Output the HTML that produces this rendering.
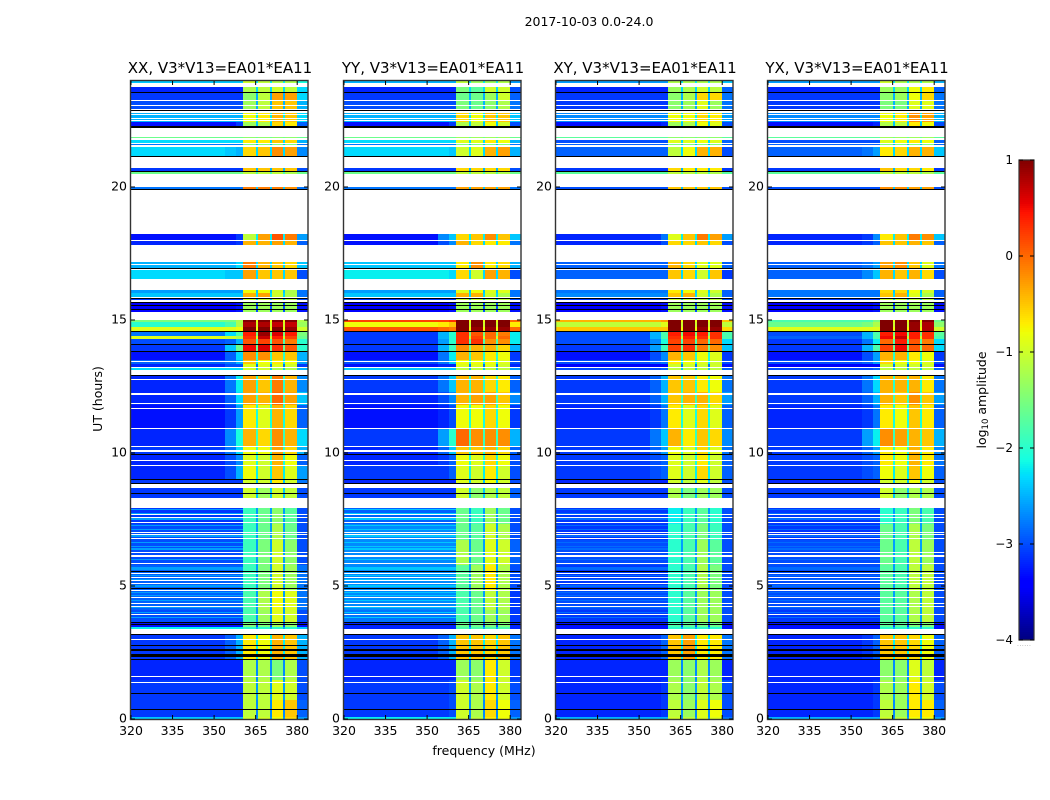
<!DOCTYPE html>
<html lang="en">
<head>
<meta charset="utf-8">
<title>2017-10-03 0.0-24.0</title>
<style>
html,body{margin:0;padding:0;background:#fff;width:1050px;height:800px;overflow:hidden}
svg{display:block}
text{font-family:"DejaVu Sans","Liberation Sans",sans-serif;fill:#000}
</style>
</head>
<body>
<svg id="chart" xmlns="http://www.w3.org/2000/svg" width="1050" height="800" viewBox="0 0 1050 800">
<rect x="0" y="0" width="1050" height="800" fill="#fff"/>
<text x="589" y="26" font-size="12.5" text-anchor="middle">2017-10-03 0.0-24.0</text>
<text x="484" y="755" font-size="12.5" text-anchor="middle">frequency (MHz)</text>
<text x="102" y="399" font-size="12.5" text-anchor="middle" transform="rotate(-90 102 399)">UT (hours)</text>
<text x="986" y="400" font-size="12.5" text-anchor="middle" transform="rotate(-90 986 400)">log<tspan font-size="8.5" dy="2">10</tspan><tspan dy="-2"> amplitude</tspan></text>
<text x="1017" y="646" font-size="6" style="fill:#999;letter-spacing:0.5px">......</text>
<g id="panels"></g>
<g id="colorbar"></g>
</svg>
<script>
const hourEdges = [24.0,23.76,23.57,23.27,22.89,22.44,22.27,21.88,21.78,21.65,21.49,21.15,20.71,20.60,20.49,19.99,19.92,18.23,18.0,17.82,17.18,16.94,16.88,16.53,16.13,16.0,15.85,15.79,15.64,15.31,15.0,14.91,14.75,14.59,14.40,14.29,14.08,13.83,13.50,13.33,13.23,13.11,12.93,12.29,11.80,10.94,10.26,9.96,9.55,9.02,8.83,8.67,8.30,7.95,7.33,6.73,5.79,4.85,4.10,3.65,3.47,3.37,3.16,2.22,1.47,0.71,0.09,0];
const freqEdges = [320,354,358,360.5,365.1,365.7,370.2,370.8,375,375.6,379.8,384];
const gutterLevels = [-2.2,-2.3,-2.5,-2.5,-2.2,-2.4,0,-1.6,-2.3,-2.5,-2.3,0,-2.5,-1.8,0,-2.4,0,-2.2,-2.3,0,-2.3,0,-2.3,0,-2.4,-2.3,0,-2.4,-3,0,-0.8,-1,-0.8,-1.5,-1,-1.8,-1.6,-2,-2.2,-2.8,-2.4,0,-2.0,-1.9,-2.1,-1.9,-2.0,-2.1,-2.2,-2.4,0,-2.4,0,-2.6,-2.6,-2.6,-2.6,-2.6,-2.6,-3,-2.5,0,-2.2,-2.7,-2.6,-2.7,-2.6];
const xxLevels = [
[-2.4,-2.4,-2.4,-1.0,-1.1,-1.2,-1.2,-2.1],[-3.2,-3.2,-3.2,-1.2,-1.1,-1.0,-1.1,-2.3],[-3.1,-3.1,-3.1,-1.4,-1.1,-0.3,-0.3,-2.3],[-3.0,-3.0,-3.0,-1.3,-1.1,-0.5,-0.5,-2.5],[-2.5,-2.5,-2.5,-0.8,-0.7,-0.4,-0.5,-2.3],[-3.3,-3.3,-3.1,-1.3,-1.2,-0.6,-0.7,-2.9],null,
[-1.6,-1.6,-1.6,-1.4,-1.4,-1.4,-1.4,-1.6],[-2.3,-2.3,-2.3,-0.7,-0.7,-0.5,-0.6,-2.5],[-2.8,-2.8,-2.8,-1.5,-1.5,-1.5,-1.5,-2.8],[-2.3,-2.4,-2.5,-0.6,-0.5,-0.2,-0.3,-2.7],null,
[-3.1,-3.1,-3.1,-0.5,-0.5,-0.5,-0.5,-3.0],[-1.6,-1.6,-1.6,-1.1,-1.1,-1.1,-1.2,-1.6],null,[-2.8,-2.8,-2.8,-0.1,-0.1,-0.1,-0.2,-2.8],null,
[-3.3,-3.3,-3.1,-1.1,-0.3,0.1,-0.1,-2.6],[-3.2,-3.2,-3.1,-0.4,-0.4,-0.3,-0.4,-2.9],null,[-2.5,-2.5,-2.3,-0.1,-0.4,-0.5,-0.6,-2.4],null,[-2.3,-2.4,-2.4,-0.3,-0.5,-0.5,-0.5,-3.0],null,
[-2.6,-2.6,-2.6,-0.8,-0.8,-1.0,-1.2,-2.8],[-2.4,-2.4,-2.4,-0.4,-0.3,-1.0,-1.2,-2.8],null,[-3.1,-3.1,-3.1,-1.0,-1.0,-1.0,-1.1,-3.0],[-3.4,-3.4,-3.3,-1.3,-1.3,-1.3,-1.3,-3.3],null,
[-1.5,-1.5,-1.2,1.0,1.0,1.0,1.0,-1.2],[-2.0,-1.8,-1.2,0.8,0.8,0.7,0.7,-1.3],[-0.9,-0.9,-0.8,1.0,1.0,1.0,0.9,-1.0],[-2.8,-2.3,-1.8,0.4,0.9,0.6,0.4,-1.5],[-0.9,-1.0,-1.2,0.3,0.7,0.4,0.2,-1.6],[-3.0,-2.9,-2.5,0.1,0.2,0.1,-0.1,-2.0],[-3.1,-2.4,-1.6,0.5,0.6,0.3,0.1,-2.0],[-3.3,-2.9,-2.3,-0.2,-0.2,-0.5,-0.5,-2.5],[-2.9,-2.8,-2.5,-0.5,-0.8,-0.7,-0.8,-2.6],[-3.2,-3.0,-3.0,-0.9,-0.9,-0.9,-1.0,-3.1],[-2.3,-2.3,-2.3,-1.0,-1.0,-1.2,-1.2,-2.5],null,
[-3.2,-2.8,-2.2,-0.3,-0.5,-0.1,-0.4,-2.7],[-3.2,-2.9,-2.3,-0.3,-0.4,0,-0.3,-2.4],[-3.3,-3.1,-2.6,-0.7,-0.9,-0.4,-0.6,-2.9],[-3.2,-2.7,-2.1,-0.4,-0.6,-0.2,-0.4,-2.3],[-3.1,-2.8,-2.3,-0.8,-0.8,-0.3,-0.6,-2.5],[-3.2,-3.0,-2.7,-0.9,-1.0,-0.4,-0.8,-2.9],[-3.2,-3.0,-2.5,-0.8,-1.0,-0.5,-0.9,-2.6],[-3.1,-3.1,-3.1,-1.0,-1.0,-0.7,-1.0,-2.8],null,[-3.1,-3.1,-3.1,-1.0,-1.3,-1.0,-1.1,-3.0],null,
[-3.1,-3.1,-3.1,-1.9,-1.6,-1.4,-1.7,-3.0],[-3.0,-3.0,-3.0,-1.9,-1.6,-1.2,-1.6,-3.0],[-3.0,-3.0,-3.0,-1.9,-1.5,-1.0,-1.4,-3.0],[-2.9,-2.9,-2.9,-1.9,-1.5,-1.0,-1.3,-2.8],[-2.9,-2.9,-2.9,-1.8,-1.2,-0.8,-0.9,-2.8],[-3.0,-3.0,-3.0,-1.8,-1.3,-0.9,-1.0,-3.0],[-3.3,-3.3,-3.3,-1.5,-1.5,-1.3,-1.4,-3.3],[-2.2,-2.2,-2.2,-2.0,-2.0,-2.0,-2.0,-2.4],null,
[-3.1,-2.9,-2.5,-0.7,-0.8,-0.4,-0.5,-2.5],[-3.2,-3.2,-3.2,-1.2,-1.2,-1.5,-1.2,-3.0],[-3.1,-3.1,-3.1,-1.1,-1.1,-0.9,-1.0,-3.0],[-3.1,-3.1,-3.1,-1.1,-1.1,-0.7,-0.5,-2.9],[-2.4,-2.4,-2.4,-1.0,-1.0,-0.8,-0.6,-2.6]];
const yyLevels = [
[-2.5,-2.5,-2.5,-1.1,-1.3,-1.3,-1.2,-2.6],[-3.2,-3.2,-3.2,-1.5,-1.7,-1.0,-1.0,-3.0],[-3.1,-3.1,-3.1,-1.6,-1.6,-1.3,-1.0,-2.9],[-3.0,-3.0,-3.0,-1.5,-1.6,-1.4,-1.2,-2.8],[-2.5,-2.5,-2.5,-0.6,-0.8,-0.5,-0.5,-2.4],[-3.3,-3.3,-3.1,-1.2,-1.1,-0.8,-1.0,-3.0],null,
[-1.6,-1.6,-1.6,-1.3,-1.3,-1.3,-1.3,-1.6],[-2.3,-2.3,-2.3,-0.9,-0.9,-0.7,-0.8,-2.5],[-2.8,-2.8,-2.8,-1.5,-1.5,-1.5,-1.5,-2.8],[-2.3,-2.3,-2.4,-1.0,-0.9,-0.4,-0.3,-2.5],null,
[-3.1,-3.1,-3.1,-0.6,-0.6,-0.6,-0.6,-3.0],[-1.6,-1.6,-1.6,-1.1,-1.1,-1.1,-1.2,-1.6],null,[-2.8,-2.8,-2.8,-0.3,-0.3,-0.3,-0.3,-2.8],null,
[-3.3,-2.7,-2.4,-0.6,-0.5,-0.2,-0.5,-2.4],[-3.3,-3.0,-2.7,-0.4,-0.6,-0.7,-0.7,-2.8],null,[-2.4,-2.4,-2.4,-0.7,-0.2,-0.7,-0.6,-2.5],null,[-2.2,-2.2,-2.3,-0.6,-1.0,-0.3,-0.4,-3.0],null,
[-2.6,-2.6,-2.6,-0.9,-0.8,-0.9,-0.9,-2.8],[-2.4,-2.4,-2.4,-0.4,-0.4,-1.0,-1.2,-2.8],null,[-3.1,-3.1,-3.1,-1.0,-1.0,-1.1,-1.1,-3.0],[-3.4,-3.4,-3.3,-1.3,-1.3,-1.3,-1.3,-3.3],null,
[0.2,0.2,0.3,1.0,1.0,1.0,1.0,0.0],[-0.8,-0.7,-0.5,1.0,1.0,1.0,1.0,-0.7],[0.1,0.0,-0.1,1.0,0.9,0.9,0.9,0.0],[-3.1,-2.5,-2.0,0.3,0.1,0.0,-0.1,-2.2],[-3.1,-2.5,-2.0,0.3,0.2,0.0,0.0,-2.2],[-3.1,-2.6,-2.0,0.3,0.3,-0.2,-0.2,-2.2],[-3.1,-2.5,-1.9,-0.2,-0.4,-0.4,-0.6,-2.5],[-3.3,-2.8,-2.2,-0.4,-0.5,-0.7,-0.8,-3.1],[-3.0,-2.8,-2.4,-0.8,-0.8,-0.8,-0.9,-3.0],[-3.3,-3.2,-3.2,-0.9,-0.9,-0.9,-1.0,-3.2],[-2.4,-2.4,-2.4,-1.1,-1.1,-1.1,-1.1,-2.6],null,
[-3.1,-2.8,-2.4,-0.4,-0.4,-0.6,-0.7,-2.9],[-3.2,-3.0,-2.7,-0.4,-0.3,-0.3,-0.5,-2.7],[-3.3,-3.2,-3.0,-0.8,-0.8,-0.6,-0.8,-3.1],[-3.1,-2.6,-2.0,0.0,-0.2,-0.2,-0.2,-2.5],[-3.2,-2.9,-2.4,-0.5,-0.5,-0.4,-0.6,-2.9],[-3.2,-3.1,-2.9,-0.8,-0.9,-0.6,-0.8,-3.0],[-3.1,-3.1,-2.9,-0.9,-1.0,-0.7,-1.0,-3.0],[-3.2,-3.2,-3.2,-0.9,-1.0,-0.8,-1.0,-3.0],null,[-3.1,-3.1,-3.1,-1.0,-1.4,-1.2,-1.1,-2.9],null,
[-2.9,-2.9,-2.9,-1.6,-1.9,-1.3,-1.6,-3.0],[-2.7,-2.7,-2.7,-1.6,-1.7,-1.0,-1.2,-3.0],[-2.7,-2.7,-2.7,-1.2,-1.6,-0.9,-1.0,-2.9],[-2.7,-2.7,-2.7,-1.7,-1.3,-0.7,-1.2,-3.0],[-2.7,-2.7,-2.7,-1.8,-1.6,-1.1,-1.2,-3.1],[-2.8,-2.8,-2.8,-1.8,-1.6,-1.3,-1.3,-3.1],[-3.2,-3.2,-3.2,-1.6,-1.6,-1.5,-1.5,-3.2],[-3.2,-3.2,-3.2,-1.8,-1.8,-1.8,-1.8,-3.2],null,
[-3.1,-2.9,-2.5,-0.5,-0.5,-0.6,-0.5,-2.8],[-3.2,-3.2,-3.2,-1.3,-1.4,-0.7,-1.0,-3.1],[-3.1,-3.1,-3.0,-1.0,-1.2,-0.7,-1.0,-3.0],[-3.1,-3.1,-3.0,-1.0,-1.2,-0.6,-0.8,-2.9],[-2.2,-2.2,-2.2,-1.0,-1.1,-0.7,-0.8,-2.6]];
const xyLevels = [
[-2.6,-2.6,-2.6,-1.2,-1.2,-1.2,-1.2,-2.4],[-3.2,-3.2,-3.2,-1.3,-1.2,-1.0,-1.1,-2.9],[-3.1,-3.1,-3.1,-1.4,-1.2,-0.6,-0.6,-2.8],[-3.1,-3.1,-3.1,-1.4,-1.3,-0.9,-1.3,-2.8],[-2.7,-2.7,-2.7,-0.8,-0.8,-0.6,-0.7,-2.6],[-3.3,-3.3,-3.2,-1.3,-1.2,-0.8,-0.9,-3.0],null,
[-1.7,-1.7,-1.7,-1.4,-1.4,-1.4,-1.4,-1.7],[-3.0,-3.0,-3.0,-0.9,-0.9,-0.8,-0.9,-2.9],[-2.9,-2.9,-2.9,-1.5,-1.5,-1.5,-1.5,-2.9],[-2.9,-2.9,-2.9,-1.1,-0.8,-0.4,-0.4,-3.0],null,
[-3.1,-3.1,-3.1,-0.6,-0.7,-0.7,-0.7,-3.1],[-1.7,-1.7,-1.7,-1.1,-1.1,-1.1,-1.2,-1.7],null,[-3.0,-3.0,-3.0,-0.5,-0.5,-0.5,-0.5,-3.0],null,
[-3.2,-3.1,-2.8,-0.9,-0.5,-0.1,-0.3,-2.6],[-3.2,-3.2,-3.0,-0.6,-0.6,-0.5,-0.6,-3.0],null,[-2.9,-2.9,-2.9,-0.4,-0.6,-0.9,-0.9,-2.9],null,[-2.9,-2.9,-2.9,-0.5,-0.6,-1.0,-0.5,-3.1],null,
[-2.8,-2.8,-2.8,-0.7,-0.8,-0.9,-1.0,-2.9],[-2.7,-2.7,-2.7,-0.5,-0.4,-1.0,-1.2,-2.9],null,[-3.1,-3.1,-3.1,-1.0,-1.0,-1.1,-1.1,-3.0],[-3.4,-3.4,-3.3,-1.3,-1.3,-1.3,-1.3,-3.3],null,
[-0.4,-0.4,-0.3,1.0,1.0,1.0,1.0,-0.5],[-1.1,-1.1,-0.9,1.0,1.0,1.0,1.0,-1.1],[-0.5,-0.5,-0.5,1.0,1.0,0.9,0.9,-0.6],[-3.0,-2.5,-1.8,0.4,0.5,0.4,0.3,-1.8],[-3.0,-2.5,-1.8,0.3,0.4,0.3,0.3,-1.8],[-3.0,-2.7,-2.1,0.2,0.2,0.0,0.0,-2.3],[-3.1,-2.6,-1.9,0.2,0.3,-0.1,-0.2,-2.4],[-3.3,-3.0,-2.7,-0.4,-0.5,-0.8,-0.9,-3.1],[-3.0,-2.9,-2.8,-0.7,-0.8,-0.9,-1.0,-3.0],[-3.4,-3.4,-3.4,-1.0,-1.0,-1.0,-1.0,-3.3],[-3.0,-3.0,-2.9,-1.1,-1.1,-1.1,-1.1,-2.9],null,
[-3.1,-2.9,-2.5,-0.5,-0.5,-0.7,-0.8,-2.8],[-3.1,-2.9,-2.5,-0.5,-0.4,-0.4,-0.6,-2.6],[-3.2,-3.1,-2.8,-0.7,-0.9,-0.6,-0.9,-2.9],[-3.1,-2.8,-2.4,-0.4,-0.7,-0.5,-0.6,-2.7],[-3.1,-2.9,-2.6,-0.8,-0.9,-0.6,-0.9,-2.8],[-3.1,-3.0,-2.9,-0.9,-1.0,-0.7,-1.0,-2.9],[-3.1,-3.0,-2.9,-0.9,-1.0,-0.6,-1.0,-2.9],[-3.2,-3.2,-3.2,-1.0,-1.1,-0.9,-1.1,-3.0],null,[-3.1,-3.1,-3.1,-1.2,-1.5,-1.3,-1.3,-3.0],null,
[-3.1,-3.1,-3.1,-2.2,-1.9,-1.7,-2.0,-3.0],[-3.1,-3.1,-3.1,-2.0,-1.8,-1.5,-1.9,-3.0],[-3.0,-3.0,-3.0,-2.0,-1.8,-1.3,-1.7,-3.0],[-3.1,-3.1,-3.1,-2.0,-1.8,-1.2,-1.5,-3.0],[-3.0,-3.0,-3.0,-2.0,-1.7,-1.3,-1.3,-3.0],[-3.1,-3.1,-3.1,-2.0,-1.7,-1.3,-1.3,-3.0],[-3.3,-3.3,-3.3,-1.8,-1.7,-1.6,-1.6,-3.3],[-3.3,-3.3,-3.3,-2.0,-2.0,-2.0,-2.0,-3.3],null,
[-3.2,-3.1,-2.9,-0.5,-0.3,-0.7,-0.7,-2.8],[-3.2,-3.2,-3.2,-1.3,-1.4,-1.2,-1.3,-3.2],[-3.2,-3.2,-3.1,-1.2,-1.4,-1.1,-1.2,-3.0],[-3.2,-3.2,-3.1,-1.1,-1.3,-0.9,-0.8,-3.0],[-2.5,-2.5,-2.5,-1.0,-1.1,-0.9,-0.9,-2.8]];
const yxLevels = [
[-2.6,-2.6,-2.6,-1.0,-1.2,-1.2,-1.2,-2.5],[-3.2,-3.2,-3.2,-1.3,-1.3,-0.8,-0.7,-2.9],[-3.1,-3.1,-3.1,-1.4,-1.3,-0.8,-0.6,-2.8],[-3.1,-3.1,-3.1,-1.5,-1.5,-0.9,-0.9,-2.8],[-2.7,-2.7,-2.7,-0.8,-0.7,-0.2,-0.3,-2.5],[-3.3,-3.3,-3.2,-1.2,-1.1,-0.7,-0.8,-3.0],null,
[-1.7,-1.7,-1.7,-1.3,-1.3,-1.3,-1.3,-1.7],[-3.0,-3.0,-3.0,-0.9,-0.8,-0.7,-0.8,-2.9],[-2.9,-2.9,-2.9,-1.5,-1.5,-1.5,-1.5,-2.9],[-2.9,-2.8,-2.6,-0.7,-0.6,-0.4,-0.4,-2.4],null,
[-3.1,-3.1,-3.1,-0.5,-0.6,-0.6,-0.7,-3.1],[-1.7,-1.7,-1.7,-1.1,-1.1,-1.1,-1.2,-1.7],null,[-3.0,-3.0,-3.0,-0.2,-0.2,-0.3,-0.3,-3.0],null,
[-3.2,-3.1,-2.7,-0.7,-0.5,-0.1,-0.2,-2.4],[-3.2,-3.1,-2.9,-0.5,-0.5,-0.4,-0.5,-2.9],null,[-2.9,-2.8,-2.6,-0.3,-0.2,-0.5,-0.9,-2.8],null,[-2.9,-2.7,-2.4,-0.4,-0.5,-0.4,-0.6,-3.0],null,
[-2.8,-2.8,-2.8,-0.6,-0.6,-0.8,-1.0,-2.9],[-2.8,-2.8,-2.8,-0.5,-0.4,-0.9,-1.2,-2.9],null,[-3.1,-3.1,-3.1,-1.0,-1.0,-1.1,-1.1,-3.0],[-3.4,-3.4,-3.3,-1.3,-1.3,-1.3,-1.3,-3.3],null,
[-1.8,-1.8,-1.5,1.0,1.0,1.0,1.0,-1.6],[-1.6,-1.5,-1.2,1.0,1.0,0.9,0.8,-1.4],[-0.9,-0.9,-0.9,1.0,1.0,0.9,0.8,-1.0],[-3.0,-2.5,-1.8,0.4,0.5,0.4,0.3,-1.7],[-2.9,-2.5,-1.8,0.5,0.7,0.4,0.3,-1.8],[-3.1,-2.8,-2.2,0.0,0.4,0.1,-0.1,-2.3],[-3.1,-2.5,-1.8,0.2,0.5,0.1,0.0,-2.3],[-3.3,-3.0,-2.6,-0.4,-0.4,-0.7,-0.8,-3.1],[-3.0,-2.9,-2.6,-0.6,-0.8,-0.8,-0.9,-3.0],[-3.4,-3.4,-3.4,-1.0,-1.0,-1.0,-1.0,-3.3],[-3.0,-3.0,-2.9,-1.1,-1.1,-1.1,-1.1,-2.9],null,
[-3.1,-2.8,-2.3,-0.4,-0.4,-0.4,-0.7,-2.8],[-3.1,-2.9,-2.5,-0.4,-0.5,-0.2,-0.5,-2.6],[-3.2,-3.1,-2.8,-0.7,-0.8,-0.5,-0.7,-2.9],[-3.1,-2.6,-2.2,-0.2,-0.3,-0.4,-0.5,-2.5],[-3.1,-2.9,-2.6,-0.7,-0.8,-0.4,-0.7,-2.7],[-3.1,-3.0,-2.9,-0.7,-0.8,-0.4,-0.7,-2.8],[-3.1,-3.0,-2.9,-0.8,-0.9,-0.5,-0.8,-2.9],[-3.2,-3.2,-3.2,-1.0,-1.0,-0.8,-1.0,-3.0],null,[-3.1,-3.1,-3.1,-1.0,-1.4,-1.2,-1.2,-3.0],null,
[-3.1,-3.1,-3.1,-2.0,-1.9,-1.5,-1.8,-3.0],[-3.1,-3.1,-3.1,-1.6,-1.8,-1.2,-1.5,-3.0],[-3.0,-3.0,-3.0,-1.6,-1.8,-1.1,-1.3,-3.0],[-3.0,-3.0,-3.0,-1.7,-1.8,-1.1,-1.1,-3.0],[-3.0,-3.0,-3.0,-1.7,-1.7,-1.2,-1.1,-3.0],[-3.1,-3.1,-3.1,-1.7,-1.7,-1.2,-1.1,-3.0],[-3.3,-3.3,-3.3,-1.7,-1.7,-1.5,-1.5,-3.3],[-3.3,-3.3,-3.3,-2.0,-2.0,-2.0,-2.0,-3.3],null,
[-3.2,-3.1,-2.9,-0.5,-0.5,-0.6,-0.8,-2.9],[-3.2,-3.2,-3.2,-1.4,-1.4,-0.9,-1.1,-3.2],[-3.2,-3.2,-3.1,-1.2,-1.3,-0.7,-1.0,-3.0],[-3.2,-3.2,-3.1,-1.1,-1.3,-0.7,-0.7,-2.9],[-2.5,-2.5,-2.5,-1.0,-1.1,-0.8,-0.8,-2.6]];
const panelNames = ["xx","yy","xy","yx"];
const panelTitles = ["XX, V3*V13=EA01*EA11","YY, V3*V13=EA01*EA11","XY, V3*V13=EA01*EA11","YX, V3*V13=EA01*EA11"];
const panelLevels = [xxLevels,yyLevels,xyLevels,yxLevels];
const stripeHours = [7.86,7.74,7.52,7.26,7.14,6.88,6.62,6.50,6.39,5.98,5.71,5.64,5.41,5.26,5.0,4.74,4.66,4.47,4.21,4.02,3.80];
const stripeLevels = [-2.6,-2.4,-2.85,-2.85];
const noDataHours = [[23.91,23.76],[23.27,23.23],[23.08,23.05],[22.93,22.90],[22.86,22.80],[22.75,22.69],[22.61,22.56],[22.52,22.48],[21.84,21.78],[21.65,21.60],[21.57,21.49],[18.0,17.97],[17.11,17.07],[16.90,16.88],[15.81,15.79],[15.74,15.69],[13.47,13.44],[13.24,13.22],[12.77,12.74],[12.27,12.24],[12.22,12.18],[11.89,11.86],[11.69,11.65],[10.94,10.90],[10.28,10.25],[10.11,10.05],[9.72,9.70],[9.56,9.53],[7.69,7.66],[7.61,7.57],[7.42,7.36],[7.04,7.00],[6.97,6.93],[6.79,6.76],[6.29,6.25],[6.17,6.10],[5.85,5.83],[5.50,5.48],[5.35,5.31],[5.23,5.19],[5.10,5.07],[4.85,4.82],[4.60,4.56],[4.35,4.32],[4.26,4.24],[3.94,3.90],[2.99,2.97],[1.63,1.59],[1.38,1.34]];
const flaggedHours = [[23.58,23.55],[22.90,22.87],[22.29,22.23],[21.16,21.13],[20.62,20.59],[19.93,19.90],[16.94,16.90],[15.84,15.81],[15.66,15.63],[15.55,15.52],[15.42,15.39],[14.57,14.54],[14.09,14.05],[13.85,13.82],[12.95,12.92],[9.98,9.92],[9.03,8.97],[8.89,8.86],[8.50,8.45],[5.56,5.53],[4.91,4.88],[3.64,3.60],[3.57,3.52],[3.20,3.16],[2.77,2.73],[2.62,2.57],[2.43,2.34],[2.27,2.22],[0.97,0.94],[0.39,0.36]];
const xTickValues = [320,335,350,365,380];
const yTickValues = [0,5,10,15,20];
const colorbarTicks = [1,0,-1,-2,-3,-4];
const panelLeft = [131,344,556,768];
const panelWidth = 177;
const plotTop = 80.6, plotBottom = 719;
const vMin = -4, vMax = 1;
const NS = "http://www.w3.org/2000/svg";

function interp(pts, t){
  for(let i=1;i<pts.length;i++){
    if(t<=pts[i][0]){
      const a=pts[i-1],b=pts[i];
      return a[1]+(b[1]-a[1])*(t-a[0])/(b[0]-a[0]);
    }
  }
  return pts[pts.length-1][1];
}
function jet(level){
  const t=Math.max(0,Math.min(1,(level-vMin)/(vMax-vMin)));
  const r=interp([[0,0],[.35,0],[.66,1],[.89,1],[1,.5]],t);
  const g=interp([[0,0],[.125,0],[.375,1],[.64,1],[.91,0],[1,0]],t);
  const b=interp([[0,.5],[.11,1],[.34,1],[.65,0],[1,0]],t);
  return "rgb("+Math.round(r*255)+","+Math.round(g*255)+","+Math.round(b*255)+")";
}
function yScale(h){return plotBottom-h*(plotBottom-plotTop)/24;}
function xScale(f,left){return left+(f-320)*2.77;}
function make(tag,attrs,parent){
  const el=document.createElementNS(NS,tag);
  for(const k in attrs){el.setAttribute(k,attrs[k]);}
  parent.appendChild(el);
  return el;
}
function band(parent,x,w,h0,h1,fill){
  const yTop=Math.round(yScale(h0));
  const yBot=Math.max(yTop+1,Math.round(yScale(h1)));
  return make("rect",{x:x,y:yTop,width:w,height:yBot-yTop,fill:fill,"shape-rendering":"crispEdges"},parent);
}
const panelsRoot=document.getElementById("panels");
panelNames.forEach(function(name,p){
  const left=panelLeft[p];
  const g=make("g",{},panelsRoot);
  
  
  const levels=panelLevels[p];
  const colX=function(f){return Math.round(xScale(f,left));};
  const rows=make("g",{},g);
  
  
  levels.forEach(function(row,i){
    if(!row)return;
    const gut=gutterLevels[i];
    const vals=[row[0],row[1],row[2],row[3],gut,row[4],gut,row[5],gut,row[6],row[7]];
    vals.forEach(function(v,c){
      const x0=colX(freqEdges[c]);
      const x1=Math.min(colX(freqEdges[c+1]),left+panelWidth);
      const r=band(rows,x0,x1-x0,hourEdges[i],hourEdges[i+1],jet(v));
      
      
    });
  });
  stripeHours.forEach(function(h){
    const x0=colX(320);
    const r=band(rows,x0,colX(freqEdges[3])-x0,h+0.02,h-0.02,jet(stripeLevels[p]));
    
    
  });
  noDataHours.forEach(function(s){
    const r=band(rows,left,panelWidth,s[0],s[1],"#fff");
    
    
  });
  flaggedHours.forEach(function(s){
    const r=band(rows,left,panelWidth,s[0],s[1],"#000");
    
    
  });
  const frame=make("rect",{x:left-0.5,y:80.5,width:panelWidth+0.5,height:639,fill:"none",stroke:"#333","stroke-width":1.4},g);
  
  
  const title=make("text",{x:left+panelWidth/2+0.5,y:73,"font-size":15,"text-anchor":"middle"},g);
  title.textContent=panelTitles[p];
  
  
  xTickValues.forEach(function(f){
    const x=xScale(f,left);
    const t1=make("line",{x1:x,x2:x,y1:719,y2:715,stroke:"#000","stroke-width":1},g);
    
    
    const t2=make("line",{x1:x,x2:x,y1:81,y2:85,stroke:"#000","stroke-width":1},g);
    
    
    const lab=make("text",{x:x,y:735,"font-size":12.5,"text-anchor":"middle"},g);
    lab.textContent=String(f);
    
    
  });
  yTickValues.forEach(function(h){
    const y=yScale(h);
    const t1=make("line",{x1:left,x2:left+4,y1:y,y2:y,stroke:"#000","stroke-width":1},g);
    
    
    const t2=make("line",{x1:left+panelWidth-4,x2:left+panelWidth,y1:y,y2:y,stroke:"#000","stroke-width":1},g);
    
    
    const lab=make("text",{x:left-4,y:y+3.5,"font-size":12.5,"text-anchor":"end"},g);
    lab.textContent=String(h);
    
    
  });
});
const cb=document.getElementById("colorbar");
const cbLeft=1019,cbRight=1034,cbTop=160,cbBottom=640;
function cbY(v){return cbBottom-(v-vMin)*(cbBottom-cbTop)/(vMax-vMin);}
for(let y=cbTop;y<cbBottom;y+=2){
  const v=vMin+(cbBottom-y-1)*(vMax-vMin)/(cbBottom-cbTop);
  const r=make("rect",{x:cbLeft,y:y,width:cbRight-cbLeft,height:2,fill:jet(v),"shape-rendering":"crispEdges"},cb);
  
  
}
const cbFrame=make("rect",{x:cbLeft,y:cbTop,width:cbRight-cbLeft,height:cbBottom-cbTop,fill:"none",stroke:"#333","stroke-width":1.2},cb);


colorbarTicks.forEach(function(v){
  const y=cbY(v);
  const a=make("line",{x1:cbLeft,x2:cbLeft+4,y1:y,y2:y,stroke:"#000","stroke-width":1},cb);
  
  
  const b=make("line",{x1:cbRight-4,x2:cbRight,y1:y,y2:y,stroke:"#000","stroke-width":1},cb);
  
  
  const lab=make("text",{x:1013,y:y+4,"font-size":12,"text-anchor":"end"},cb);
  lab.textContent=String(v).replace("-","\u2212");
  
  
});
</script>
</body>
</html>
